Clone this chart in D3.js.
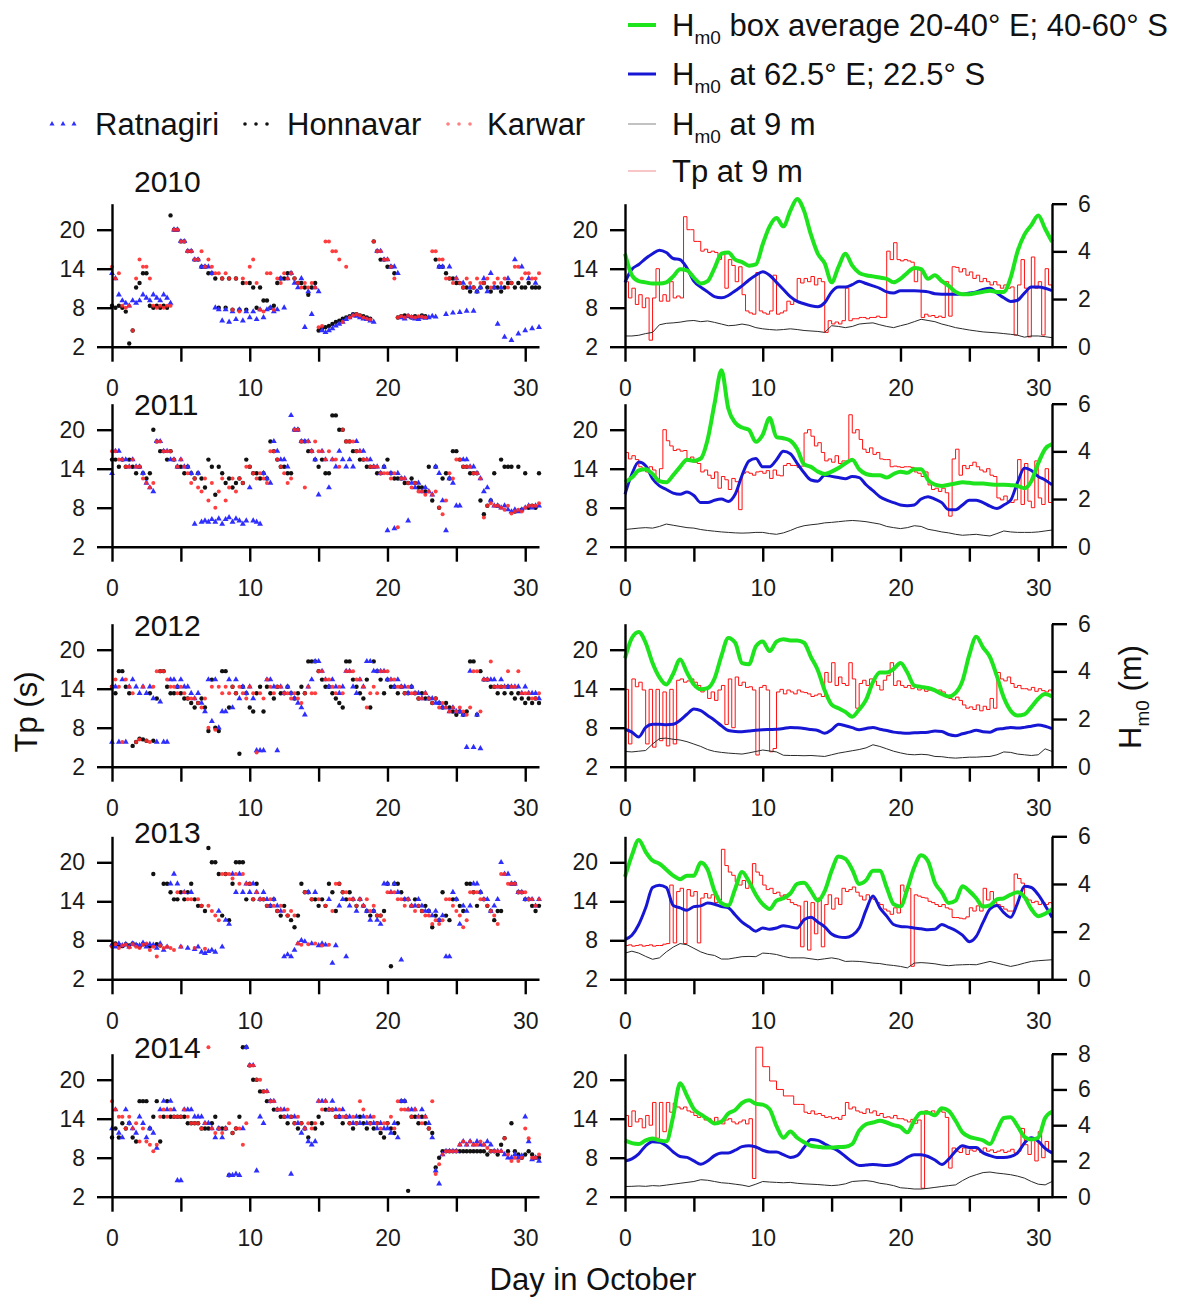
<!DOCTYPE html>
<html><head><meta charset="utf-8">
<script src="https://cdn.jsdelivr.net/npm/d3@7"></script>
<style>body{margin:0;background:#fff}svg{display:block}text{font-family:"Liberation Sans",Arial,sans-serif}</style>
</head><body>
<svg id="c" width="1181" height="1298"></svg>
<script>
// ---------- categories / ticks ----------
const years=[2010,2011,2012,2013,2014];
const tpTicks=[2,8,14,20];
const dayTicks=[0,5,10,15,20,25,30];
const dayLabels=[0,10,20,30];
const hmTicks=[[0,2,4,6],[0,2,4,6],[0,2,4,6],[0,2,4,6],[0,2,4,6,8]];
const hmMax=[6,6,6,6,8];
const stations=["Ratnagiri","Honnavar","Karwar"];

// ---------- Tp (s) at buoys, every 0.25 day, 1-31 Oct ----------
const tpRatnagiri2010=[13.3,12.5,10,9.1, 8.7,8.3,9.1,8.7, 9.1,10,9.5,9.1, 10,9.5,9.1,10, 9.5,8.7,20,20, 18.2,18.2,16.7,16.7, 15.4,15.4,14.3,14.3, 14.3,13.3,8,7.7, 6,7.7,5.8,7.4, 6.2,7.7,6,7.4, 6.5,7.4,6.2,7.7, 6.5,7.7,8,7.4, 7.7,12.5,8,12.5, 13.3,11.8,11.1,12.5, 5,10.5,7,11.1, 10.5,4.5,4.2,4.5, 4.8,5.2,5.5,5.8, 6.2,6.5,6.8,6.7, 6.5,6.3,6.2,6, 5.8,16.7,16.7,15.4, 15.4,14.3,14.3,13.3, 6.5,6.3,6.7,6.5, 6.3,6.2,6.5,6.4, 6.5,6.7,6.6,14.3, 14.3,7,14.3,7.2, 12.5,7.3,11.8,7.5, 11.1,7.5,10.5,11.1, 12.5,10.5,13.3,11.1, 5.5,11.1,3.5,12.5, 3,15.4,4,14.3, 4.5,12.5,4.8,11.8, 5];
const tpHonnavar2010=[8.3,8,8.3,8, 7.4,2.5,4.5,11.1, 11.8,13.3,13.3,8.3, 8,8.3,8,8.3, 8,22.2,20,20, 18.2,18.2,16.7,16.7, 15.4,15.4,14.3,14.3, 13.3,13.3,12.5,8, 12.5,8,12.5,7.7, 12.5,7.7,11.8,7.7, 11.8,11.1,8,11.1, 9.1,9.1,8,8.3, 11.8,12.5,12.5,13.3, 13.3,12.5,11.8,11.8, 11.1,10,11.1,11.8, 4.5,4.8,5,5.2, 5.5,5.8,6,6.3, 6.5,6.7,7,7, 6.8,6.7,6.5,6.3, 18.2,16.7,15.4,15.4, 14.3,14.3,13.3,6.5, 6.7,6.8,6.7,6.5, 6.7,6.5,6.8,6.7, null,null,15.4,14.3, 14.3,13.3,12.5,12.5, 11.8,11.8,11.1,11.1, 10.5,11.1,10.5,11.1, 11.8,11.1,10.5,11.1, 11.1,10.5,11.1,11.8, 11.8,11.1,11.8,11.1, 11.1,11.8,11.1,11.1, 11.1];
const tpKarwar2010=[14.3,12.5,13.3,8.3, 8,8.3,4.5,12.5, 15.4,14.3,14.3,12.5, 8.3,8,8.3,8, 8.3,8.3,20,20, 18.2,18.2,16.7,16.7, 15.4,15.4,16.7,14.3, 15.4,14.3,13.3,13.3, 12.5,13.3,12.5,7.7, 12.5,7.4,12.5,11.8, 14.3,15.4,11.8,7.7, 7.4,13.3,13.3,7.7, 12.5,11.8,13.3,12.5, 13.3,12.5,11.8,11.1, 11.8,11.1,11.8,11.1, 5,5.2,18.2,18.2, 16.7,16.7,15.4,5.8, 14.3,6.5,6.8,7, 6.8,6.5,6.3,6.2, 18.2,16.7,16.7,15.4, 15.4,14.3,12.5,6.5, 6.7,6.5,6.8,6.6, 6.5,6.7,6.6,6.5, null,16.7,16.7,15.4, 15.4,12.5,12.5,11.8, 12.5,11.8,11.1,12.5, 11.8,11.1,12.5,11.8, 11.8,12.5,11.1,11.8, 12.5,11.8,12.5,11.1, 11.8,14.3,14.3,12.5, 13.3,13.3,12.5,12.5, 13.3];

const tpRatnagiri2011=[13.3,16.7,16.7,15.4, 15.4,14.3,15.4,14.3, 14.3,13.3,11.8,11.1, 10.5,18.2,18.2,16.7, 16.7,15.4,15.4,14.3, 15.4,14.3,14.3,13.3, 5.5,13.3,5.8,6, 5.8,6.2,5.8,6.3, 5.5,6.2,6.5,5.8, 6.3,6,5.5,6, 11.1,6,5.8,5.5, 13.3,12.5,11.8,18.2, 16.7,15.4,15.4,14.3, 22.2,20,20,18.2, 18.2,18.2,16.7,15.4, 10,16.7,15.4,11.1, 15.4,14.3,16.7,15.4, 14.3,15.4,14.3,18.2, 16.7,16.7,15.4,15.4, 14.3,14.3,13.3,14.3, 4.5,13.3,4.8,13.3, 12.5,12.5,6,11.8, 11.1,11.8,10.5,11.1, 10.5,10,14.3,13.3, 9.1,4.5,12.5,11.8, 8.3,8.3,15.4,15.4, 14.3,14.3,13.3,12.5, 10.5,11.1,9.1,8.3, 8.3,8,8.3,7.7, 7.4,7.7,7.4,7.7, 8,8.3,8,8.3, 8.3];
const tpHonnavar2011=[15.4,15.4,14.3,15.4, 14.3,15.4,14.3,13.3, 14.3,13.3,12.5,13.3, 20,18.2,16.7,16.7, 15.4,16.7,15.4,14.3, 14.3,13.3,14.3,13.3, 12.5,13.3,12.5,11.1, 15.4,14.3,10,14.3, 13.3,11.8,12.5,11.1, 11.8,12.5,11.8,15.4, 14.3,13.3,13.3,12.5, 13.3,12.5,18.2,16.7, 15.4,14.3,14.3,13.3, 13.3,20,20,18.2, 18.2,16.7,16.7,15.4, 14.3,15.4,13.3,13.3, 22.2,22.2,20,20, 18.2,18.2,16.7,16.7, 15.4,15.4,14.3,14.3, 14.3,13.3,13.3,14.3, 15.4,13.3,12.5,12.5, 12.5,11.8,11.8,12.5, 11.8,11.1,11.1,10.5, 14.3,9.1,14.3,8, 12.5,13.3,12.5,16.7, 16.7,15.4,14.3,14.3, 13.3,13.3,13.3,9.1, 7,8.3,9.1,13.3, 8.3,15.4,14.3,14.3, 14.3,7.4,14.3,7.7, 13.3,8,8.3,8, 13.3];
const tpKarwar2011=[16.7,16.7,15.4,15.4, 14.3,14.3,15.4,14.3, 14.3,12.5,11.8,11.1, 11.8,18.2,18.2,16.7, 16.7,16.7,15.4,14.3, 15.4,14.3,13.3,11.8, 12.5,11.1,10.5,12.5, 9.1,11.8,8,10.5, 12.5,9.1,11.1,12.5, 10.5,12.5,11.8,14.3, 14.3,13.3,12.5,13.3, 12.5,11.8,16.7,16.7, 15.4,14.3,13.3,11.8, 12.5,20,20,18.2, 11.1,18.2,16.7,18.2, 16.7,16.7,15.4,16.7, 15.4,15.4,14.3,20, 18.2,18.2,18.2,16.7, 16.7,15.4,15.4,14.3, 14.3,14.3,13.3,13.3, 13.3,12.5,13.3,5, 12.5,12.5,11.8,11.1, 11.8,10.5,10.5,10, 10.5,10,10.5,8, 7,9.1,13.3,12.5, 15.4,15.4,14.3,14.3, 14.3,13.3,13.3,12.5, 6.5,8.3,8.7,8.3, 8.3,8,7.7,8.3, 7.1,7.4,7.7,7.4, 8,8.3,8.3,8.3, 8.7];

const tpRatnagiri2012=[5.8,14.3,5.8,15.4, 5.8,14.3,15.4,14.3, 13.3,14.3,13.3,14.3, 12.5,5.8,12,5.8, 5.8,15.4,15.4,14.3, 15.4,14.3,14.3,13.3, 12.5,13.3,11.8,10.5, 15.4,9,15.4,8, 10.5,10.5,15.4,11.1, 15.4,12.5,14.3,13.3, 14.3,12.5,4.5,4.5, 4.5,15.4,15.4,14.3, 4.5,14.3,13.3,14.3, 13.3,12.5,11.8,11.1, 10,14.3,15.4,18.2, 18.2,16.7,15.4,14.3, 15.4,14.3,13.3,14.3, 16.7,16.7,14.3,13.3, 15.4,14.3,18.2,18.2, 16.7,16.7,16.7,16.7, 15.4,15.4,14.3,15.4, 14.3,14.3,13.3,14.3, 13.3,13.3,12.5,13.3, 12.5,12.5,11.8,11.8, 11.1,11.1,10.5,11.1, 10.5,10.5,10,5, 16.7,5,10,4.8, 15.4,15.4,15.4,15.4, 14.3,15.4,14.3,14.3, 14.3,14.3,14.3,13.3, 14.3,13.3,13.3,13.3, 12.5];
const tpHonnavar2012=[14.3,13.3,16.7,16.7, 14.3,13.3,5.2,5.8, 6.3,6.2,6,13.3, 6,12.5,16.7,16.7, 14.3,13.3,13.3,14.3, 13.3,12.5,12.5,11.8, 11.1,11.8,12.5,11.1, 7.5,15.4,8,7.5, 16.7,16.7,11.1,14.3, 13.3,4,14.3,13.3, 11.1,10.5,13.3,14.3, 10.5,14.3,13.3,12.5, 14.3,13.3,13.3,14.3, 13.3,12.5,13.3,14.3, 13.3,18.2,18.2,18.2, 16.7,15.4,14.3,14.3, 13.3,12.5,11.8,11.1, 18.2,18.2,15.4,14.3, 13.3,12.5,15.4,11.1, 18.2,16.7,15.4,13.3, 15.4,14.3,14.3,13.3, 14.3,13.3,13.3,14.3, 13.3,12.5,13.3,12.5, 12.5,11.8,12.5,11.8, 11.1,11.8,11.1,10.5, 10,10.5,10,10.5, 18.2,18.2,10,16.7, 15.4,15.4,14.3,14.3, 13.3,14.3,13.3,14.3, 13.3,12.5,13.3,12.5, 11.8,12.5,11.8,12.5, 11.8];
const tpKarwar2012=[14.3,15.4,14.3,5.8, 15.4,14.3,13.3,5.8, 6.2,14.3,6,5.8, 14.3,16.7,16.7,16.7, 15.4,14.3,14.3,13.3, 14.3,13.3,12.5,12.5, 12.5,11.8,11.1,12.5, 8,14.3,7.7,14.3, 13.3,14.3,13.3,14.3, 13.3,14.3,13.3,12.5, 14.3,13.3,4.2,13.3, 12.5,15.4,14.3,13.3, 14.3,14.3,13.3,13.3, 12.5,13.3,12.5,11.8, 13.3,14.3,13.3,13.3, 16.7,16.7,15.4,15.4, 14.3,13.3,14.3,13.3, 16.7,16.7,16.7,15.4, 15.4,14.3,11.1,13.3, 14.3,13.3,16.7,16.7, 16.7,15.4,15.4,14.3, 14.3,13.3,14.3,13.3, 13.3,12.5,12.5,13.3, 12.5,11.8,12.5,11.1, 11.8,11.1,10.5,11.1, 10.5,11.1,10.5,10, 11.1,16.7,16.7,10.5, 15.4,15.4,18.2,14.3, 14.3,14.3,14.3,16.7, 14.3,14.3,16.7,13.3, 13.3,13.3,12.5,12.5, 13.3];

const tpRatnagiri2013=[7.3,7,7.5,7.2, 7.4,7,7.5,7.3, 7.2,7.6,7,7.4, 7.3,6.8,7.5,6.5, 7,16.7,18.2,16.7, 7,15.4,6.8,15.4, 6.6,7,6.2,6, 6.3,6.5,6.2,12.5, 7,11.1,10.5,18.2, 15.4,18.2,15.4,16.7, 15.4,16.7,15.4,14.3, 15.4,14.3,13.3,14.3, 13.3,12.5,5.5,5.8, 5.5,6.5,7.5,8, 7.8,15.4,7.5,15.4, 7.2,7.5,7.3,14.3, 4.5,7.2,13.3,14.3, 5.5,13.3,14.3,12.5, 14.3,13.3,12.5,11.1, 12.5,11.1,10.5,16.7, 16.7,15.4,16.7,15.4, 5,14.3,14.3,13.3, 13.3,14.3,13.3,12.5, 12.5,11.8,12.5,11.1, 11.8,5.5,5.5,15.4, 14.3,10.5,13.3,12.5, 13.3,16.7,16.7,15.4, 14.3,14.3,12.5,13.3, 14.3,20,18.2,18.2, 16.7,16.7,15.4,15.4, 14.3,14.3,14.3,13.3, 14.3];
const tpHonnavar2013=[7.2,7.5,7.3,7.1, 7.4,7.2,7.5,7.3, 7,7.4,7.3,7.1, 18.2,7.4,7.2,16.7, 16.7,15.4,14.3,14.3, 15.4,14.3,15.4,16.7, 14.3,13.3,13.3,12.5, 22.2,20,20,18.2, 11.8,18.2,11.1,16.7, 20,20,20,14.3, 16.7,14.3,16.7,14.3, 14.3,13.3,13.3,14.3, 12.5,11.8,13.3,11.8, 11.1,10,11.8,16.7, 15.4,15.4,14.3,14.3, 13.3,14.3,13.3,16.7, 15.4,12.5,16.7,15.4, 14.3,15.4,14.3,13.3, 14.3,13.3,12.5,11.8, 12.5,11.8,11.8,12.5, 16.7,4,16.7,16.7, 15.4,14.3,14.3,13.3, 14.3,13.3,12.5,13.3, 12.5,10,11.8,11.1, 15.4,11.8,11.1,14.3, 14.3,13.3,12.5,16.7, 16.7,15.4,13.3,15.4, 14.3,13.3,12.5,11.1, 12.5,12.5,null,null, 16.7,16.7,15.4,15.4, 14.3,14.3,13.3,12.5, 13.3];
const tpKarwar2013=[7,7.4,6.8,7.2, 7.3,6.9,7.4,7, 6.8,7.3,7.5,6.5, 7,5.5,7.2,6.8, 7,6.8,6.5,15.4, 7,15.4,14.3,14.3, 6.8,14.3,13.3,6.7, 13.3,12.5,11.8,11.1, 18.2,18.2,18.2,17.5, 18.2,16.7,18.2,16.7, 16.7,14.3,15.4,14.3, 14.3,13.3,14.3,13.3, 12.5,13.3,12.5,11.8, 12.5,11.8,7.5,7.3, 15.4,7.4,14.3,7.5, 14.3,7.2,13.3,7.3, 12.5,16.7,16.7,15.4, 15.4,14.3,14.3,13.3, 14.3,13.3,14.3,12.5, 13.3,11.8,11.8,11.1, 15.4,15.4,15.4,14.3, 14.3,13.3,14.3,13.3, 12.5,13.3,12.5,11.8, 11.8,10.5,11.1,10.5, 11.1,14.3,14.3,13.3, 12.5,11.8,10,11.1, 15.4,15.4,15.4,14.3, 14.3,13.3,12.5,11.8, 10.5,18.2,18.2,16.7, 16.7,16.7,15.4,15.4, 15.4,14.3,14.3,13.3, 14.3];

const tpRatnagiri2014=[12.5,15.4,11.8,11.1, 15.4,13.3,12.5,11.8, 14.3,13.3,11.1,12.5, 11.8,9.5,15.4,16.7, 15.4,16.7,15.4,4.5, 4.5,15.4,15.4,15.4, 14.3,14.3,14.3,13.3, 13.3,12.5,11.1,12.5, 11.1,12.5,5.3,5.3, 5.5,5.3,12.5,25, 22.2,22.2,6,14.3, 13.3,18.2,16.7,16.7, 15.4,15.4,15.4,14.3, 5.5,14.3,13.3,11.8, 12.5,10.5,10,10.5, 16.7,16.7,16.7,15.4, 16.7,15.4,14.3,15.4, 14.3,14.3,13.3,14.3, 13.3,14.3,13.3,14.3, 13.3,12.5,13.3,12.5, 12.5,11.8,13.3,11.1, 16.7,16.7,15.4,15.4, 15.4,14.3,15.4,14.3, 13.3,11.1,6,4, 8.5,9,9,9, 9,10,10.5,10, 10.5,10,10.5,10, 10,10.5,10,9, 9,9,8.5,8, 8,8.5,8,8.3, 14.3,10.5,7.7,8, 7.5];
const tpHonnavar2014=[11.1,12.5,11.1,13.3, 12.5,13.3,11.1,10.5, 16.7,16.7,16.7,12.5, 14.3,16.7,10.5,14.3, 16.7,14.3,14.3,14.3, 14.3,14.3,13.3,13.3, 13.3,13.3,12.5,12.5, 12.5,13.3,14.3,12.5, 12.5,12.5,5.3,11.8, 12.5,14.3,25,25, 22.2,20,20,18.2, 18.2,16.7,16.7,15.4, 15.4,14.3,14.3,13.3, 14.3,13.3,12.5,13.3, 12.5,11.1,13.3,12.5, 14.3,13.3,15.4,15.4, 15.4,14.3,14.3,13.3, 14.3,13.3,12.5,13.3, 14.3,13.3,12.5,13.3, 12.5,13.3,11.8,11.1, 13.3,12.5,11.8,13.3, 16.7,16.7,2.9,14.3, 14.3,13.3,14.3,13.3, 12.5,11.8,6.5,8, 9,9,9,9, 9,9,9,9, 9,9,9,9, 9,8.5,9,9, 8.5,10,11,9, 13.3,9,8.5,8, 8.5,9,8.5,8, 8];
const tpKarwar2014=[16.7,15.4,14.3,14.3, 12.5,14.3,12.5,13.3, 10.5,12.5,10.5,10, 9,10,14.3,15.4, 14.3,15.4,14.3,14.3, 14.3,15.4,14.3,13.3, 13.3,13.3,12.5,13.3, 25,12.5,11.8,12.5, 11.8,12.5,13.3,11.8, 12.5,12.5,10,13.3, 22.2,22.2,20,20, 18.2,18.2,16.7,16.7, 15.4,15.4,14.3,15.4, 14.3,13.3,14.3,13.3, 12.5,13.3,12.5,13.3, 16.7,15.4,16.7,15.4, 15.4,14.3,15.4,14.3, 14.3,13.3,14.3,13.3, 16.7,15.4,14.3,13.3, 14.3,13.3,12.5,13.3, 13.3,14.3,12.5,16.7, 15.4,15.4,15.4,14.3, 15.4,14.3,13.3,14.3, 12.5,16.7,5.5,7, 8.5,9,9,9, 9,10,10.5,10, 10.5,10,10,10.5, 10,9.5,9,9, 9,9,11,8.5, 7.5,8,7.5,8, 12.5,11,8,8, 8.5];

// ---------- Hm0 box average 20-40E 40-60S (m), every 0.5 day ----------
const hmBox2010=[3.9,3.0,2.75,2.7,2.65,2.65,2.7,2.95,3.25,3.2,2.9,2.65,2.75,3.3,3.9,3.95,3.65,3.55,3.4,3.45,4.3,5.05,5.4,5.05,5.7,6.2,5.7,4.7,3.9,3.5,2.7,3.35,3.9,3.4,3.1,3.0,2.95,2.9,2.85,2.7,2.85,3.1,3.3,3.25,2.85,3.0,2.75,2.55,2.3,2.2,2.2,2.25,2.3,2.35,2.3,2.3,2.9,4.0,4.7,5.1,5.5,4.95,4.4];
const hmBox2011=[2.7,2.9,3.2,3.25,3.05,2.75,2.7,3.0,3.35,3.65,3.6,3.7,4.5,6.0,7.4,5.8,5.2,5.0,4.9,4.4,4.7,5.4,4.6,4.55,4.45,4.1,3.45,3.35,3.15,3.05,3.15,3.3,3.5,3.65,3.25,3.05,3.0,3.0,2.9,3.05,3.15,3.1,3.25,3.25,2.8,2.6,2.55,2.6,2.65,2.7,2.68,2.65,2.65,2.62,2.6,2.6,2.58,2.55,2.45,2.75,3.5,4.1,4.3];
const hmBox2012=[4.55,5.4,5.65,5.2,4.35,3.75,3.45,3.9,4.5,3.95,3.45,3.25,3.3,3.7,4.65,5.4,5.2,4.35,4.3,5.05,5.25,4.85,5.25,5.35,5.3,5.3,5.2,4.6,4.05,3.2,2.6,2.45,2.3,2.1,2.4,2.8,3.55,3.95,3.95,4.1,4.35,3.95,3.4,3.35,3.3,3.2,3.05,2.95,3.1,3.6,4.7,5.45,5.0,4.6,3.8,2.9,2.35,2.15,2.2,2.5,2.85,3.05,2.95];
const hmBox2013=[4.3,5.2,5.85,5.35,4.98,4.85,4.6,4.35,4.2,4.35,4.35,4.9,4.6,3.7,3.2,3.1,3.8,4.5,4.1,3.55,3.15,2.95,3.3,3.4,3.6,4.0,4.05,3.7,3.3,3.7,4.55,5.15,5.05,4.6,4.0,4.15,4.55,4.55,3.85,3.15,3.05,3.8,4.7,5.2,4.95,4.05,3.65,3.2,3.3,3.9,3.7,3.4,3.05,3.1,3.35,3.4,3.55,3.65,3.45,2.95,2.65,2.75,2.95];
const hmBox2014=[3.15,3.0,2.95,3.15,3.25,3.15,3.1,4.5,6.35,5.65,4.9,4.6,4.35,4.1,4.2,4.65,4.85,5.25,5.4,5.2,5.15,4.9,3.95,3.3,3.65,3.3,3.05,2.85,2.8,2.75,2.75,2.78,2.8,2.95,3.7,4.05,4.15,4.25,4.15,4.0,3.9,3.6,4.25,4.7,4.7,4.55,4.95,4.8,4.25,3.6,3.35,3.25,3.15,2.95,3.7,4.4,4.45,3.95,3.35,3.2,3.3,4.4,4.75];

// ---------- Hm0 at 62.5E 22.5S (m), every 0.5 day ----------
const hmPoint2010=[2.7,3.25,3.45,3.7,3.9,4.05,3.95,3.7,3.65,3.3,2.75,2.5,2.3,2.1,2.05,2.15,2.35,2.55,2.8,3.0,3.15,3.0,2.7,2.4,2.1,1.9,1.8,1.72,1.68,1.85,2.3,2.5,2.5,2.6,2.75,2.65,2.55,2.45,2.3,2.25,2.35,2.35,2.35,2.33,2.3,2.22,2.2,2.2,2.2,2.2,2.25,2.3,2.4,2.45,2.25,2.05,1.9,1.95,2.25,2.5,2.5,2.45,2.35];
const hmPoint2011=[2.2,3.05,3.55,3.4,2.85,2.55,2.4,2.25,2.2,2.3,2.15,1.85,1.85,1.95,2.0,1.9,2.2,3.0,3.6,3.7,3.35,3.35,3.65,4.0,3.9,3.5,3.1,2.8,2.75,3.0,2.95,2.9,2.85,2.95,2.9,2.6,2.35,2.1,1.95,1.85,1.75,1.72,1.75,2.0,2.1,2.0,1.85,1.55,1.55,1.75,1.95,1.95,1.85,1.7,1.6,1.75,1.95,2.7,3.3,3.2,2.95,2.8,2.6];
const hmPoint2012=[1.57,1.45,1.25,1.65,1.78,1.78,1.76,1.78,1.95,2.2,2.42,2.35,2.15,1.95,1.72,1.52,1.48,1.47,1.5,1.53,1.55,1.56,1.57,1.6,1.65,1.63,1.6,1.56,1.52,1.4,1.55,1.78,1.72,1.64,1.55,1.6,1.65,1.57,1.52,1.45,1.42,1.4,1.42,1.43,1.45,1.5,1.48,1.35,1.3,1.38,1.45,1.53,1.47,1.45,1.57,1.6,1.65,1.62,1.65,1.7,1.75,1.7,1.6];
const hmPoint2013=[1.67,1.85,2.3,3.0,3.85,3.95,3.85,3.1,3.0,2.9,3.05,3.08,3.2,3.15,3.05,3.0,2.7,2.4,2.2,2.02,2.15,2.1,2.15,2.25,2.2,2.15,2.5,2.6,2.4,2.2,1.9,1.78,1.75,1.85,2.15,2.9,3.5,3.0,2.65,2.3,2.22,2.2,2.15,2.12,2.08,2.1,2.3,2.18,2.05,1.85,1.58,1.8,2.4,2.95,3.1,2.8,2.6,3.2,3.9,3.85,3.55,3.1,2.6];
const hmPoint2014=[2.0,2.12,2.4,2.85,3.08,3.05,2.85,2.5,2.25,2.2,2.0,1.82,2.0,2.3,2.45,2.45,2.6,2.8,2.85,2.78,2.6,2.5,2.5,2.35,2.2,2.3,2.75,3.2,3.15,2.95,2.75,2.55,2.25,1.95,1.75,1.77,1.8,1.77,1.75,1.8,1.95,2.2,2.35,2.35,2.25,2.05,1.8,2.1,2.55,2.85,2.75,2.75,2.45,2.3,2.2,2.2,2.25,2.45,3.0,3.3,3.1,2.7,2.45];

// ---------- Hm0 at 9 m (m), every 0.5 day ----------
const hm9m2010=[0.45,0.45,0.48,0.55,0.6,0.92,0.98,1.0,1.03,1.08,1.1,1.05,1.08,1.02,0.95,0.88,0.9,0.95,0.9,0.8,0.75,0.72,0.7,0.72,0.75,0.72,0.68,0.66,0.64,0.6,0.88,0.85,0.8,0.85,0.95,0.98,1.0,0.92,0.85,0.8,0.88,0.95,1.05,1.15,1.1,1.05,0.95,0.88,0.8,0.75,0.7,0.66,0.62,0.6,0.58,0.55,0.52,0.48,0.4,0.45,0.45,0.42,0.38];
const hm9m2011=[0.72,0.75,0.78,0.8,0.78,0.85,0.95,0.9,0.85,0.8,0.78,0.72,0.68,0.65,0.62,0.6,0.58,0.57,0.58,0.6,0.6,0.55,0.52,0.58,0.68,0.8,0.88,0.92,0.95,1.0,1.02,1.05,1.08,1.1,1.08,1.05,1.0,0.95,0.85,0.8,0.76,0.8,0.88,0.85,0.73,0.68,0.62,0.58,0.52,0.48,0.5,0.52,0.48,0.45,0.55,0.66,0.62,0.6,0.6,0.6,0.62,0.66,0.7];
const hm9m2012=[0.64,0.62,0.65,0.68,0.95,1.18,1.2,1.15,1.12,1.05,0.95,0.85,0.72,0.64,0.6,0.57,0.55,0.53,0.58,0.64,0.7,0.66,0.62,0.48,0.47,0.47,0.46,0.47,0.45,0.43,0.5,0.57,0.62,0.67,0.72,0.79,0.92,0.85,0.75,0.65,0.58,0.52,0.5,0.52,0.5,0.43,0.42,0.38,0.36,0.38,0.4,0.4,0.42,0.43,0.5,0.62,0.6,0.53,0.5,0.47,0.5,0.75,0.64];
const hm9m2013=[1.1,1.18,1.1,0.96,0.84,0.9,1.15,1.35,1.5,1.45,1.3,1.15,1.05,1.0,0.85,0.85,0.9,0.95,0.96,0.95,1.1,1.08,1.04,0.96,0.9,0.9,0.9,0.86,0.82,0.86,0.9,0.85,0.75,0.76,0.75,0.72,0.68,0.66,0.61,0.58,0.54,0.48,0.68,0.7,0.68,0.65,0.6,0.57,0.6,0.61,0.62,0.61,0.68,0.75,0.68,0.61,0.54,0.6,0.68,0.75,0.78,0.8,0.82];
const hm9m2014=[0.57,0.58,0.6,0.58,0.62,0.6,0.65,0.7,0.75,0.8,0.85,0.95,0.92,0.85,0.78,0.75,0.7,0.65,0.57,0.7,0.85,0.82,0.8,0.78,0.8,0.75,0.72,0.7,0.68,0.65,0.62,0.65,0.72,0.85,0.88,0.9,0.85,0.75,0.7,0.62,0.5,0.47,0.43,0.43,0.47,0.52,0.57,0.62,0.66,0.9,1.1,1.23,1.35,1.38,1.32,1.28,1.23,1.15,1.04,0.85,0.7,0.66,0.85];

// ---------- Tp at 9 m (s), every 0.25 day ----------
const tp9m2010=[12,9.5,11,8.5, 10,8,9.5,3, 9.5,14,9,10, 9,12,9.5,9.8, 9.5,22,20,20, 18.2,18.2,16.7,17, 16.5,16.7,16.5,15.4, 16.5,11,15.4,14.5, 12,14.3,10,7.5, 7.2,7,13.4,7.5, 7.2,7,7.5,13, 7,7.2,7.5,9, 8.5,9,12.5,11.8, 12.5,12,12.8,11.5, 12.5,12,4.2,6, 5.5,5.8,5.5,6, 11,6,6.3,6.3, 6.5,6.5,6.3,6.5, 6.5,6.7,6.5,6.5, 16.7,15.4,18,15.4, 15.2,15.4,15.2,15, 12,14,6.5,7, 6.7,6.8,6.5,6.7, 6.5,12,6.7,14.3, 14.2,13.5,14,13, 13.5,12.5,13,12, 12.5,12,11.5,12, 11.5,11,11.5,11, 11.2,3.8,11.5,15.4, 11,3.5,15.8,11, 12,3.8,14,11.5, 11];
const tp9m2011=[16.5,15.5,16,15.4, 14.3,14,13.5,14.3, 13.8,12,14,20, 18.3,17.5,16.8,17, 16.7,16.8,15.5,15.8, 15,14.8,13.5,13.8, 13,12.5,13.5,11, 12.8,12.3,10.8,12.5, 12,7.7,13.3,13.5, 13.3,13,13.5,13.6, 13.3,13.7,12.5,13.8, 13,12.9,14.5,14.8, 14.5,14.5,14.2,14.4, 19.5,20,19,17.5, 18,16.5,15.2,15.5, 15,16,14.8,15.2, 15.2,22.3,19.5,20, 18.5,17,16.5,17.2, 16.2,16.5,15.5,15.4, 15.4,14.3,14.4,14.3, 14.2,14.3,14.3,14.2, 13.5,13.3,12.8,13.5, 11.5,10.8,11,10.5, 11,10.3,6.7,15.5, 17,13,14.5,14, 14.5,15,14.3,13.8, 13.5,14,13,12.8, 9.5,9.2,9.8,9, 8.8,9.2,15.4,8.5, 14.8,9,8,15.2, 9.5,8.5,14,8.8, 8.7];
const tp9m2012=[13.9,5.5,15.5,14.3, 15,13.8,5.5,13.9, 5,13.9,6,13.5, 5.2,13.9,5.5,15.3, 15.5,15,15.2,15.5, 15,14.5,13.5,14, 12.5,13.5,12.2,13.8, 14.5,8.5,15.5,8, 15.8,14.5,15,14.2, 14.3,13.8,3.8,14.2, 14.5,13.8,4.3,4.8, 13.5,13.9,13.2,13.8, 13.5,13.2,13.8,13.5, 13.4,13.2,12.8,13, 13.2,12.8,16.5,15, 18,14.5,15.8,14.8, 14.5,18,15.5,11, 14.8,15.3,14.5,15.5, 15.2,14.5,13.8,15.3, 16,18,14.5,15.2, 14.5,14.2,14.5,14, 14.2,13.8,14,13.6, 13.8,14,13.5,13.8, 13.5,12.9,12.5,12.3, 12.7,12.2,11.5,11, 11.2,10.8,11.5,10.6, 11.3,10.8,12.5,11, 16.5,15.5,15.2,15.8, 14.8,14.2,14.5,14, 14,13.8,14.2,13.6, 14,13.7,13.5,13.8, 13.5];
const tp9m2013=[7.2,7.3,7.1,7.2, 7.3,7.1,7.2,7.3, 7.1,7.2,7.2,7.4, 7.5,16.5,7.6,15.5, 16,7.5,15.8,14.8, 15.5,7.6,14.5,15.2, 14.5,15,13.8,14.2, 22,19.5,18.5,18, 17,16.5,17.2,16, 16.5,19.8,18.5,18, 16.5,15.8,16,15.2, 15.4,14.8,15,14.3, 13.8,13.5,13.3,7, 14,6.5,13.8,9, 14.5,7,13.5,15, 12.8,14.5,13.5,16, 15.5,15.8,16.2,15.4, 14.8,14.2,15,14.5, 14.3,13.8,13.5,12.8, 12.5,12,13,12.2, 16.5,15.5,16,4, 15,14.8,14.6,14.5, 14,13.8,13.5,13.2, 13.5,13,12.8,11.5, 11.5,11.4,11.3,11.6, 13,12.5,13.3,12.5, 16,14.2,15.5,13.8, 13.5,13.2,12.8,12.5, 12.5,18.2,17.5,16.8, 14.5,14.2,13.8,14, 13.5,13.8,13.5,13.8, 13.6];
const tp9m2014=[14.5,12.8,15.2,13.5, 14,12.6,14.5,13, 16.5,11,16.5,12, 16.5,15,16.4,15.8, 15.5,15.8,15.2,15, 14.5,14.2,14.5,13.8, 14,13.5,14.2,13.5, 13.2,13.8,14,13.5, 13.2,13.5,13.8,13.2, 14,4.8,25,25, 22,22,19.8,19.8, 18.5,18.5,17.5,17.5, 17.5,16.2,16.2,16.2, 15,14.8,15.2,14.7, 14.8,14.5,14.2,14.3, 14,14.2,13.9,14.5, 16.5,15.5,15.8,15.2, 15,14.8,15.5,14.9, 15.2,14.5,14.8,14.2, 14.3,14.1,14.5,14, 14,13.8,13.5,13.9, 13.3,13.8,3.3,15.2, 15,15.2,14.8,15.4, 15,14.2,6.4,9.5, 9,8.8,9.5,8.5, 9.2,9,9.3,8.8, 9.5,9,9.2,8.8, 9,9.2,8.8,9, 9.3,8.7,9,12.5, 10,8.5,11,7.5, 12,8,10.5,9, 8.5];

// ---------- grouping for drawing ----------
const leftData=[
 [tpRatnagiri2010,tpHonnavar2010,tpKarwar2010],
 [tpRatnagiri2011,tpHonnavar2011,tpKarwar2011],
 [tpRatnagiri2012,tpHonnavar2012,tpKarwar2012],
 [tpRatnagiri2013,tpHonnavar2013,tpKarwar2013],
 [tpRatnagiri2014,tpHonnavar2014,tpKarwar2014]];
const rightData=[
 [hmBox2010,hmPoint2010,hm9m2010,tp9m2010],
 [hmBox2011,hmPoint2011,hm9m2011,tp9m2011],
 [hmBox2012,hmPoint2012,hm9m2012,tp9m2012],
 [hmBox2013,hmPoint2013,hm9m2013,tp9m2013],
 [hmBox2014,hmPoint2014,hm9m2014,tp9m2014]];

// ---------- layout ----------
const FONT='"Liberation Sans",Arial,sans-serif';
const rowBottom=[346.7,546.7,766.7,979.3,1196.7];
const PH=143;
const yearBase=[192,415,636,843,1058];
const xL=d3.scaleLinear([0,31],[112,539]);
const xR=d3.scaleLinear([0,31],[625,1052]);
const C={green:"#1ee41e",blue:"#1616d4",red:"#ff1010",black:"#2a2a2a",
  rat:"#2e2eff",hon:"#111111",kar:"#ff2a2a"};

const svg=d3.select("#c");
const dayOf=(i,n)=>i*31/(n-1);

function styleAxis(g){
  g.selectAll(".domain,.tick line").attr("stroke","#000").attr("stroke-width",2.4);
  g.selectAll("text").attr("font-size",23).attr("fill","#1a1a1a").attr("font-family",FONT);
}
function xAxis(g,x,bottom){
  g.attr("transform",`translate(0,${bottom})`)
   .call(d3.axisBottom(x).tickValues(dayTicks).tickSize(15).tickPadding(18).tickSizeOuter(0)
     .tickFormat(d=>dayLabels.includes(d)?d:""));
  styleAxis(g);
}
const triSym=d3.symbol(d3.symbolTriangle,15);
const triLeg=d3.symbol(d3.symbolTriangle,11);

years.forEach((yr,r)=>{
  const bottom=rowBottom[r], top=bottom-PH;
  const y=d3.scaleLinear([2,24],[bottom,top]);
  const y2=d3.scaleLinear([0,hmMax[r]],[bottom,top]);

  // ---- left panel: buoy Tp scatter ----
  const gl=svg.append("g");
  const [rat,hon,kar]=leftData[r];
  const pts=a=>a.map((v,i)=>({d:dayOf(i,a.length),v})).filter(p=>p.v!=null);
  gl.append("g").selectAll("circle").data(pts(hon)).join("circle")
    .attr("cx",p=>xL(p.d)).attr("cy",p=>y(p.v)).attr("r",2.2).attr("fill",C.hon);
  gl.append("g").selectAll("path").data(pts(rat)).join("path")
    .attr("d",triSym).attr("transform",p=>`translate(${xL(p.d)},${y(p.v)})`).attr("fill",C.rat);
  gl.append("g").selectAll("circle").data(pts(kar)).join("circle")
    .attr("cx",p=>xL(p.d)).attr("cy",p=>y(p.v)).attr("r",2).attr("fill",C.kar).attr("opacity",0.9);

  gl.append("g").call(g=>xAxis(g,xL,bottom));
  gl.append("g").attr("transform",`translate(${xL(0)},0)`)
    .call(d3.axisLeft(y).tickValues(tpTicks).tickSize(15).tickPadding(12).tickSizeOuter(0)).call(styleAxis);
  svg.append("text").attr("x",134).attr("y",yearBase[r]).attr("font-size",30)
    .attr("font-family",FONT).attr("fill","#111").text(yr);

  // ---- right panel: lines ----
  const gr=svg.append("g");
  const [box,pnt,h9,t9]=rightData[r];
  const line=(a,ys,curve)=>d3.line().x((v,i)=>xR(dayOf(i,a.length))).y(v=>ys(v)).curve(curve)(a);
  gr.append("path").attr("d",line(t9,y,d3.curveStepAfter)).attr("fill","none").attr("stroke",C.red).attr("stroke-width",1);
  gr.append("path").attr("d",line(h9,y2,d3.curveLinear)).attr("fill","none").attr("stroke",C.black).attr("stroke-width",1);
  gr.append("path").attr("d",line(pnt,y2,d3.curveMonotoneX)).attr("fill","none").attr("stroke",C.blue).attr("stroke-width",3);
  gr.append("path").attr("d",line(box,y2,d3.curveMonotoneX)).attr("fill","none").attr("stroke",C.green).attr("stroke-width",4);

  gr.append("g").call(g=>xAxis(g,xR,bottom));
  gr.append("g").attr("transform",`translate(${xR(0)},0)`)
    .call(d3.axisLeft(y).tickValues(tpTicks).tickSize(15).tickPadding(12).tickSizeOuter(0)).call(styleAxis);
  gr.append("g").attr("transform",`translate(${xR(31)},0)`)
    .call(d3.axisRight(y2).tickValues(hmTicks[r]).tickFormat(d3.format("d")).tickSize(15).tickPadding(11).tickSizeOuter(0)).call(styleAxis);
});

// ---------- legends ----------
const lg=svg.append("g").attr("font-family",FONT);
const legY=124;
[[52,C.rat,"tri"],[245,C.hon,"dot"],[448,"#ff8080","dot"]].forEach(([x0,col,kind])=>{
  for(let j=0;j<3;j++){
    if(kind==="tri") lg.append("path").attr("d",triLeg).attr("transform",`translate(${x0+j*11},${legY})`).attr("fill",col);
    else lg.append("circle").attr("cx",x0+j*11).attr("cy",legY).attr("r",1.8).attr("fill",col);
  }
});
[[95,"Ratnagiri"],[287,"Honnavar"],[487,"Karwar"]].forEach(([x,t])=>
  lg.append("text").attr("x",x).attr("y",legY+11).attr("font-size",31).attr("fill","#111").text(t));

const rl=[["#1ee41e",4,25," box average 20-40° E; 40-60° S"],["#1616d4",3,74," at 62.5° E; 22.5° S"],
          ["#999",1.2,124," at 9 m"],["#f4a0a0",1.2,171,null]];
rl.forEach(([col,w,yy,rest])=>{
  lg.append("line").attr("x1",628).attr("x2",656).attr("y1",yy).attr("y2",yy).attr("stroke",col).attr("stroke-width",w);
  const t=lg.append("text").attr("x",672).attr("y",yy+11).attr("font-size",31).attr("fill","#111");
  if(rest===null){t.text("Tp at 9 m");}
  else{t.append("tspan").text("H");t.append("tspan").attr("font-size",19).attr("dy",8).text("m0");
       t.append("tspan").attr("dy",-8).text(rest);}
});

// ---------- axis titles ----------
svg.append("text").attr("font-family",FONT).attr("font-size",31).attr("fill","#111")
  .attr("text-anchor","middle").attr("transform","translate(37,712) rotate(-90)").text("Tp (s)");
const hl=svg.append("text").attr("font-family",FONT).attr("font-size",31).attr("fill","#111")
  .attr("text-anchor","middle").attr("transform","translate(1141,697) rotate(-90)");
hl.append("tspan").text("H");hl.append("tspan").attr("font-size",19).attr("dy",8).text("m0");
hl.append("tspan").attr("dy",-8).text(" (m)");
svg.append("text").attr("font-family",FONT).attr("font-size",31).attr("fill","#111")
  .attr("text-anchor","middle").attr("x",593).attr("y",1290).text("Day in October");
</script>
</body></html>
